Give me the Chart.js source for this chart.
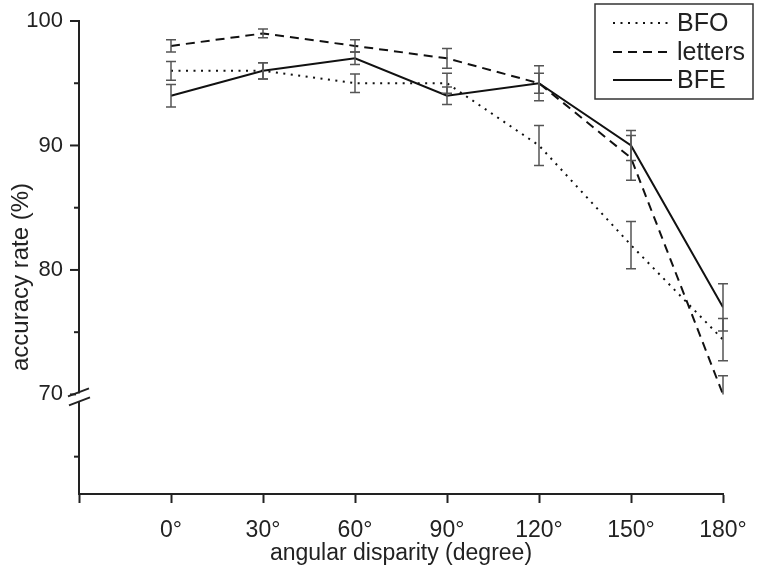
<!DOCTYPE html>
<html>
<head>
<meta charset="utf-8">
<script src="https://cdn.jsdelivr.net/npm/chart.js@4"></script>
<style>
  html, body { margin: 0; padding: 0; background: #fff; }
  #wrap { width: 758px; height: 574px; }
</style>
</head>
<body>
<div id="wrap"><canvas id="chart-acc" width="758" height="574"></canvas></div>
<script>
const angles = [0, 30, 60, 90, 120, 150, 180];
const bfo = [96, 96, 95, 95, 90, 82, 74.4];
const letters = [98, 99, 98, 97, 95, 89, 70];
const bfe = [94, 96, 97, 94, 95, 90, 77];
const bfoErr = [0.75, 0.65, 0.75, 0.8, 1.6, 1.9, 1.7];
const lettersErr = [0.5, 0.35, 0.5, 0.8, 0.8, 1.8, 1.5];
const bfeErr = [0.9, 0.65, 0.5, 0.7, 1.4, 1.2, 1.9];
const yMajor = [70, 80, 90, 100];
const breakAt = 70;

const fontFam = "'Liberation Sans', Arial, sans-serif";
const ink = '#222';

const toPoints = (vals) => angles.map((a, i) => ({ x: a, y: vals[i] }));

// error bars, clipped at the axis break like the original
const errorBars = {
    id: 'errorBars',
    afterDatasetsDraw(chart) {
        const { ctx, scales: { x, y } } = chart;
        ctx.save();
        ctx.strokeStyle = '#555';
        ctx.lineWidth = 1.5;
        chart.data.datasets.forEach((ds) => {
            ds.data.forEach((p, i) => {
                const e = ds.errors[i];
                const px = x.getPixelForValue(p.x);
                const top = y.getPixelForValue(p.y + e);
                const low = Math.max(p.y - e, breakAt);
                const bot = y.getPixelForValue(low);
                ctx.beginPath();
                ctx.moveTo(px, top); ctx.lineTo(px, bot);
                ctx.moveTo(px - 5, top); ctx.lineTo(px + 5, top);
                if (low > breakAt) { ctx.moveTo(px - 5, bot); ctx.lineTo(px + 5, bot); }
                ctx.stroke();
            });
        });
        ctx.restore();
    }
};

// y ticks (long/short), axis break, y title and legend box
const decor = {
    id: 'decor',
    afterDraw(chart) {
        const { ctx, scales: { y }, chartArea } = chart;
        const ax = chartArea.left;
        ctx.save();
        ctx.strokeStyle = ink;
        ctx.lineWidth = 2;
        y.ticks.forEach((t) => {
            const py = y.getPixelForValue(t.value);
            const len = yMajor.includes(t.value) ? 9 : 5;
            ctx.beginPath();
            ctx.moveTo(ax - len, py); ctx.lineTo(ax, py);
            ctx.stroke();
        });

        // break
        const by = y.getPixelForValue(breakAt) + 3;
        ctx.fillStyle = '#fff';
        ctx.fillRect(ax - 3, by - 4, 6, 8);
        ctx.beginPath();
        ctx.moveTo(ax - 11, by - 1); ctx.lineTo(ax + 10, by - 9);
        ctx.moveTo(ax - 10, by + 8); ctx.lineTo(ax + 11, by);
        ctx.stroke();

        // y title
        ctx.fillStyle = ink;
        ctx.font = '24px ' + fontFam;
        ctx.textAlign = 'center';
        ctx.textBaseline = 'middle';
        ctx.translate(21, 277);
        ctx.rotate(-Math.PI / 2);
        ctx.fillText('accuracy rate (%)', 0, 0);
        ctx.restore();

        // legend
        ctx.save();
        ctx.strokeStyle = '#333';
        ctx.lineWidth = 1.5;
        ctx.strokeRect(595, 4, 158, 95);
        ctx.font = '25px ' + fontFam;
        ctx.fillStyle = ink;
        ctx.textBaseline = 'middle';
        const rows = [23, 52, 80];
        chart.data.datasets.forEach((ds, i) => {
            ctx.beginPath();
            ctx.strokeStyle = ds.borderColor;
            ctx.lineWidth = ds.borderWidth;
            ctx.setLineDash(ds.borderDash);
            ctx.moveTo(613, rows[i]); ctx.lineTo(672, rows[i]);
            ctx.stroke();
            ctx.setLineDash([]);
            ctx.fillText(ds.label, 677, rows[i] + 1);
        });
        ctx.restore();
    }
};

const config = {
    type: 'line',
    data: {
        datasets: [
            { label: 'BFO', data: toPoints(bfo), errors: bfoErr, borderDash: [2, 5.5] },
            { label: 'letters', data: toPoints(letters), errors: lettersErr, borderDash: [9, 6] },
            { label: 'BFE', data: toPoints(bfe), errors: bfeErr, borderDash: [] }
        ].map((d) => Object.assign(d, {
            borderColor: '#111', borderWidth: 2, pointRadius: 0, tension: 0,
            borderCapStyle: 'butt', fill: false
        }))
    },
    options: {
        responsive: false,
        animation: false,
        layout: { padding: { top: 21, right: 35, left: 0, bottom: 0 } },
        plugins: { legend: { display: false }, tooltip: { enabled: false } },
        scales: {
            x: {
                type: 'linear',
                min: -30, max: 180,
                afterFit: (s) => { s.height = 80; s.paddingLeft = 0; s.paddingRight = 0; },
                border: { display: true, color: ink, width: 2 },
                grid: { drawOnChartArea: false, drawTicks: true, tickLength: 9, tickColor: ink, tickWidth: 2 },
                ticks: {
                    stepSize: 30, color: ink, padding: 14,
                    font: { family: fontFam, size: 23 },
                    callback: (v) => v < 0 ? '' : v + '°'
                },
                title: {
                    display: true, text: 'angular disparity (degree)', color: ink,
                    font: { family: fontFam, size: 23 }, padding: { top: 0, bottom: 7 }
                }
            },
            y: {
                min: 62, max: 100,
                afterFit: (s) => { s.width = 79; s.paddingTop = 0; s.paddingBottom = 0; },
                border: { display: true, color: ink, width: 2 },
                grid: { display: false },
                ticks: {
                    stepSize: 5, includeBounds: false, color: ink, padding: 8,
                    font: { family: fontFam, size: 22 },
                    callback: (v) => yMajor.includes(v) ? String(v) : ''
                }
            }
        }
    },
    plugins: [errorBars, decor]
};

new Chart(document.querySelector('#chart-acc'), config);
</script>
</body>
</html>
